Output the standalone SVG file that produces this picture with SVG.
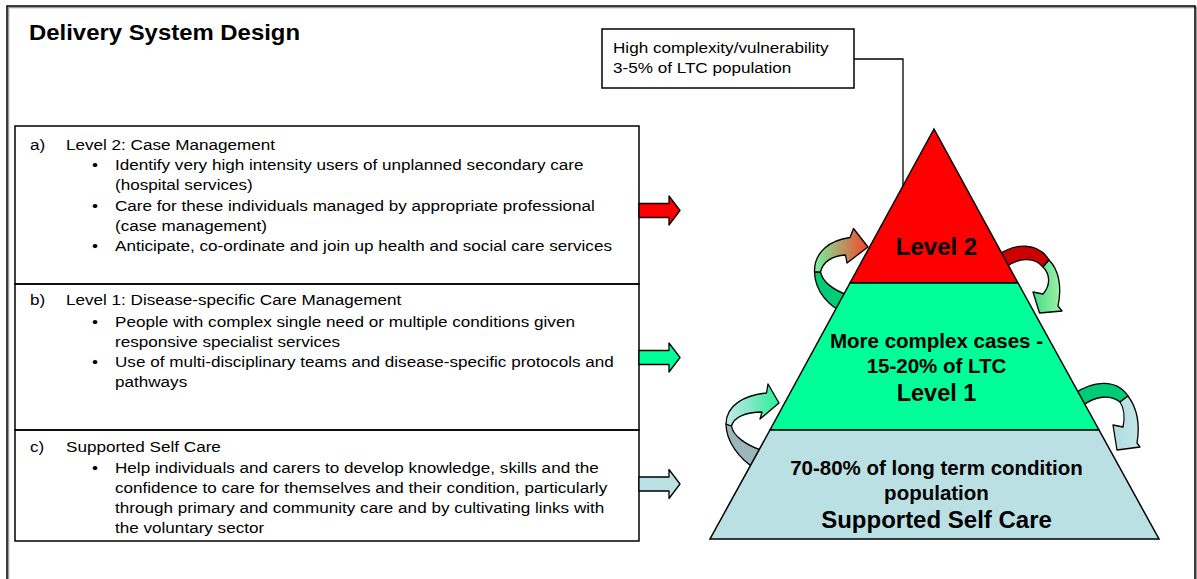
<svg xmlns="http://www.w3.org/2000/svg" width="1197" height="579" viewBox="0 0 1197 579">
  <style>
    .txt { font-family: "Liberation Sans", Arial, sans-serif; font-size: 15px; fill: #000; }
    .bold { font-family: "Liberation Sans", Arial, sans-serif; font-weight: bold; fill: #000; text-anchor: middle; }
    .line { fill: none; stroke: #000; stroke-width: 1.5; }
    .edge { stroke: #000; stroke-width: 1.3; stroke-linejoin: round; }
    .shape { stroke: #000; stroke-width: 1.5; stroke-linejoin: miter; }
  </style>
  <defs>
    <linearGradient id="gTopLeft" gradientUnits="userSpaceOnUse" x1="815" y1="0" x2="866" y2="0">
      <stop offset="0" stop-color="#77EFA0"/>
      <stop offset="1" stop-color="#F04A2E"/>
    </linearGradient>
    <linearGradient id="gTopRight" gradientUnits="userSpaceOnUse" x1="1034" y1="0" x2="1062" y2="0">
      <stop offset="0" stop-color="#44DD88"/>
      <stop offset="1" stop-color="#A6F2A8"/>
    </linearGradient>
    <linearGradient id="gLowLeft" gradientUnits="userSpaceOnUse" x1="727" y1="0" x2="778" y2="0">
      <stop offset="0" stop-color="#C4E6E8"/>
      <stop offset="1" stop-color="#2EEE98"/>
    </linearGradient>
    <linearGradient id="gLowRight" gradientUnits="userSpaceOnUse" x1="1113" y1="0" x2="1140" y2="0">
      <stop offset="0" stop-color="#B2DCDF"/>
      <stop offset="1" stop-color="#C4E6E8"/>
    </linearGradient>
  </defs>

  <!-- page frame with soft edge -->
  <rect x="8.5" y="7.5" width="1188" height="600" fill="none" stroke="#999" stroke-width="1.5"/>
  <rect x="7" y="6" width="1188" height="600" class="line"/>

  <g id="title">
    <text x="26.68" y="40" transform="scale(1.087,1)" style="font-family:'Liberation Sans',Arial,sans-serif;font-weight:bold;font-size:22px">Delivery System Design</text>
  </g>

  <!-- description panels; the body text is set slightly wide -->
  <g id="panel-a">
    <rect x="15" y="126" width="624" height="158" fill="#fff" class="line"/>
    <g transform="scale(1.14,1)">
      <text class="txt" x="26.32" y="150">a)</text>
      <text class="txt" x="57.89" y="150">Level 2: Case Management</text>
      <text class="txt" x="80.7" y="170.5">•</text>
      <text class="txt" x="100.88" y="170.5">Identify very high intensity users of unplanned secondary care</text>
      <text class="txt" x="100.88" y="190.5">(hospital services)</text>
      <text class="txt" x="80.7" y="211">•</text>
      <text class="txt" x="100.88" y="211">Care for these individuals managed by appropriate professional</text>
      <text class="txt" x="100.88" y="231">(case management)</text>
      <text class="txt" x="80.7" y="251.5">•</text>
      <text class="txt" x="100.88" y="251.5">Anticipate, co-ordinate and join up health and social care services</text>
    </g>
  </g>
  <g id="panel-b">
    <rect x="15" y="284" width="624" height="146" fill="#fff" class="line"/>
    <g transform="scale(1.14,1)">
      <text class="txt" x="26.32" y="305">b)</text>
      <text class="txt" x="57.89" y="305">Level 1: Disease-specific Care Management</text>
      <text class="txt" x="80.7" y="327">•</text>
      <text class="txt" x="100.88" y="327">People with complex single need or multiple conditions given</text>
      <text class="txt" x="100.88" y="347">responsive specialist services</text>
      <text class="txt" x="80.7" y="367.5">•</text>
      <text class="txt" x="100.88" y="367.5">Use of multi-disciplinary teams and disease-specific protocols and</text>
      <text class="txt" x="100.88" y="387.5">pathways</text>
    </g>
  </g>
  <g id="panel-c">
    <rect x="15" y="430" width="624" height="111" fill="#fff" class="line"/>
    <g transform="scale(1.14,1)">
      <text class="txt" x="26.32" y="452">c)</text>
      <text class="txt" x="57.89" y="452">Supported Self Care</text>
      <text class="txt" x="80.7" y="473">•</text>
      <text class="txt" x="100.88" y="473">Help individuals and carers to develop knowledge, skills and the</text>
      <text class="txt" x="100.88" y="493">confidence to care for themselves and their condition, particularly</text>
      <text class="txt" x="100.88" y="513">through primary and community care and by cultivating links with</text>
      <text class="txt" x="100.88" y="533">the voluntary sector</text>
    </g>
  </g>

  <!-- callout box -->
  <g id="callout">
    <rect x="602" y="29" width="252" height="59" fill="#fff" class="line"/>
    <g transform="scale(1.14,1)">
      <text class="txt" x="537.72" y="53">High complexity/vulnerability</text>
      <text class="txt" x="537.72" y="73">3-5% of LTC population</text>
    </g>
  </g>

  <g id="connectors">
    <!-- leader from callout to apex tier -->
    <polyline points="854,59 903,59 903,188" fill="none" stroke="#000" stroke-width="1.3"/>
    <!-- block arrows from panels to pyramid -->
    <polygon class="edge" fill="#FF0000" points="639,203.5 669,203.5 669,196 680,210.5 669,225 669,217.5 639,217.5"/>
    <polygon class="edge" fill="#00FF99" points="639,350.5 669,350.5 669,343 680,357.5 669,372 669,364.5 639,364.5"/>
    <polygon class="edge" fill="#BBE0E3" points="639,477 669,477 669,469.5 680,484 669,498.5 669,491 639,491"/>

    <!-- circular arrows around the tiers (back faces first) -->
    <path class="edge" fill="#00CC77" d="M814.5 272 C815 291 828 306 846 314 L850 296 C836 291 823 284 820.5 272 Z"/>
    <path class="edge" fill="url(#gTopLeft)" d="M814.5 272 C814 252 830 240 850 237.5 L853.5 228.5 L868 247 L847 263 L845.5 255 C832 256 823 262 820.5 272 Z"/>

    <path class="edge" fill="#CC0000" d="M998 255 C1015 243 1038 242 1049 260 L1043 267 C1034 256 1018 258 1004 268 Z"/>
    <path class="edge" fill="url(#gTopRight)" d="M1049 260 C1059 270 1062 287 1058 306 L1062 311 L1039.5 313 L1033 292 L1043 294 C1051 285 1050 274 1043 267 Z"/>

    <path class="edge" fill="#9AB6BA" d="M726 424 C726 441 739 459 756 469 L761 450 C746 445 733 436 731.5 426 Z"/>
    <path class="edge" fill="url(#gLowLeft)" d="M726 424 C726 405 745 395 766.5 393 L768 384 L779 403 L760 419 L762 412 C746 412 734 417 731.5 426 Z"/>

    <path class="edge" fill="#00CC77" d="M1074 394 C1093 380 1117 379 1128 396 L1120 402 C1110 394 1095 396 1082 406 Z"/>
    <path class="edge" fill="url(#gLowRight)" d="M1128 396 C1137 408 1140 425 1137 443 L1140 447 L1117 450 L1113 425 L1123 427 C1125 418 1124 408 1120 402 Z"/>
  </g>

  <!-- pyramid tiers -->
  <g id="tier-level2">
    <polygon class="shape" fill="#FF0000" points="934,129 1018,283 850,283"/>
    <text class="bold" x="936.5" y="255" font-size="24">Level 2</text>
  </g>
  <g id="tier-level1">
    <polygon class="shape" fill="#00FF99" points="850,283 1018,283 1099,430 770,430"/>
    <text class="bold" x="936.5" y="348" font-size="20.5">More complex cases -</text>
    <text class="bold" x="936.5" y="373" font-size="20.5">15-20% of LTC</text>
    <text class="bold" x="936.5" y="401" font-size="23.5">Level 1</text>
  </g>
  <g id="tier-selfcare">
    <polygon class="shape" fill="#BBE0E3" points="770,430 1099,430 1159,539 710,539"/>
    <text class="bold" x="936.5" y="475" font-size="20.5">70-80% of long term condition</text>
    <text class="bold" x="936.5" y="500" font-size="20.5">population</text>
    <text class="bold" x="936.5" y="528" font-size="24">Supported Self Care</text>
  </g>
</svg>
